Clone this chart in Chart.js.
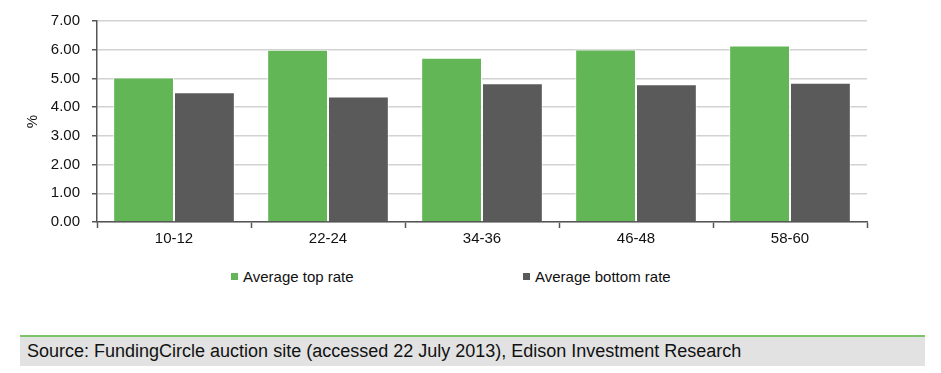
<!DOCTYPE html>
<html>
<head>
<meta charset="utf-8">
<script src="https://cdn.jsdelivr.net/npm/chart.js@4"></script>
<style>
  body { margin: 0; background: #fff; width: 941px; height: 373px; position: relative; overflow: hidden; }
  #wrap { position: absolute; left: 0; top: 0; width: 941px; height: 261px; }
  #legend { position: absolute; top: 266px; left: 0; width: 941px; height: 22px;
    font-family: "Liberation Sans", Arial, sans-serif; font-size: 15px; color: #111; }
  .item { position: absolute; top: 0; line-height: 22px; white-space: nowrap; }
  .box { display: inline-block; width: 7px; height: 7px; margin-right: 5px; vertical-align: 2px; }
  #source { position: absolute; left: 20px; top: 335px; width: 905px; height: 31px;
    border-top: 2px solid #7cc36a; background: #e2e2e2; box-sizing: border-box;
    font-family: "Liberation Sans", Arial, sans-serif; font-size: 18px; color: #111;
    padding-left: 7px; line-height: 29px; }
</style>
</head>
<body>
<div id="wrap"><canvas id="chart"></canvas></div>
<div id="legend"></div>
<div id="source">Source: FundingCircle auction site (accessed 22 July 2013), Edison Investment Research</div>
<script>
// datos
const categorias = ['10-12', '22-24', '34-36', '46-48', '58-60'];
const topRate = [5.03, 6.00, 5.72, 6.01, 6.15];
const bottomRate = [4.52, 4.37, 4.83, 4.80, 4.85];
const yTicks = [0, 1, 2, 3, 4, 5, 6, 7];

const verde = '#63b655';
const gris = '#5a5a5a';
const fuente = '"Liberation Sans", Arial, sans-serif';

const datos = {
    labels: categorias,
    datasets: [{
        label: 'Average top rate',
        data: topRate,
        backgroundColor: verde,
        borderColor: 'rgba(255,255,255,0.7)',
        borderWidth: 1
    }, {
        label: 'Average bottom rate',
        data: bottomRate,
        backgroundColor: gris,
        borderColor: 'rgba(255,255,255,0.7)',
        borderWidth: 1
    }]
};

new Chart(document.getElementById('chart'), {
    type: 'bar',
    data: datos,
    options: {
        responsive: true,
        maintainAspectRatio: false,
        animation: false,
        layout: { padding: { top: 14, right: 74, left: 0, bottom: 0 } },
        datasets: { bar: { categoryPercentage: 0.79, barPercentage: 1 } },
        plugins: { legend: { display: false }, tooltip: { enabled: false } },
        scales: {
            x: {
                grid: { drawOnChartArea: false, drawTicks: true, tickLength: 6, tickColor: '#555', tickWidth: 1.5 },
                border: { color: '#555', width: 1.5 },
                ticks: { color: '#111', font: { family: fuente, size: 15 }, padding: 2, maxRotation: 0 },
                afterFit: s => { s.height = 39; }
            },
            y: {
                min: 0, max: 7,
                afterBuildTicks: s => { s.ticks = yTicks.map(v => ({ value: v })); },
                grid: { color: '#d2d2d2', lineWidth: 1.5, tickLength: 5, tickColor: '#555' },
                border: { color: '#555', width: 1.5 },
                ticks: { color: '#111', font: { family: fuente, size: 15 }, padding: 12,
                    callback: v => Number(v).toFixed(2) },
                title: { display: true, text: '%', color: '#111', font: { family: fuente, size: 15 }, padding: { top: 24, bottom: 0 } },
                afterFit: s => { s.width = 97; }
            }
        }
    }
});

// leyenda
const leyenda = document.getElementById('legend');
const posiciones = [231, 523];
datos.datasets.forEach((ds, i) => {
    const it = document.createElement('div');
    it.className = 'item';
    it.style.left = posiciones[i] + 'px';
    it.innerHTML = '<span class="box" style="background:' + ds.backgroundColor + '"></span>' + ds.label;
    leyenda.appendChild(it);
});
</script>
</body>
</html>
